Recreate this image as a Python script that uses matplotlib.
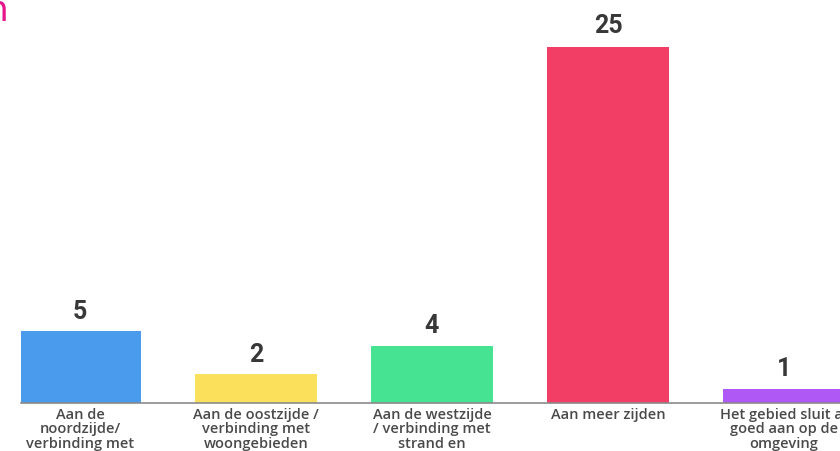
import matplotlib.pyplot as plt

# Data
categories = [
    "Aan de\nnoordzijde/\nverbinding met",
    "Aan de oostzijde /\nverbinding met\nwoongebieden",
    "Aan de westzijde\n/ verbinding met\nstrand en",
    "Aan meer zijden",
    "Het gebied sluit al\ngoed aan op de\nomgeving",
]
counts = [5, 2, 4, 25, 1]
bar_colors = ['#4A9BEE', '#FBE05C', '#46E392', '#F23D65', '#B058F6']

fig = plt.figure(figsize=(8.4, 4.52), dpi=100)
# axes reaches past the right edge so the last bar is cut off like in the screenshot
ax = fig.add_axes([21 / 840, 48 / 452, 1 - 21 / 840, (404 - 48) / 452])

x = list(range(len(categories)))
bars = ax.bar(x, counts, width=0.69, color=bar_colors, zorder=2)

ax.set_xlim(-0.335, -0.335 + (840 - 21) / 176)
ax.set_ylim(0, 25 * 356 / 358)

# value labels above the bars
for b, v in zip(bars, counts):
    ax.annotate(str(v), (b.get_x() + b.get_width() / 2, v),
                xytext=(0, 6), textcoords='offset points',
                ha='center', va='bottom', fontsize=18, fontweight='bold',
                family='Roboto', color='#383838', annotation_clip=False)

ax.set_xticks(x)
ax.set_xticklabels(categories, fontsize=10.5, family='Open Sans',
                   fontweight='semibold', color='#4a4a4a', linespacing=1.02)
ax.tick_params(axis='x', length=0, pad=3)
ax.set_yticks([])

for side in ['top', 'right', 'left']:
    ax.spines[side].set_visible(False)
ax.spines['bottom'].set_color('#8a8a8a')
ax.spines['bottom'].set_linewidth(1.2)

# piece of the title, cut off at the top-left corner
fig.text(9 / 840, 1 + 6 / 452, "n", ha='right', va='top', fontsize=26,
         color='#E5158C', family='DejaVu Sans')

fig.savefig("out.png", dpi=100)
